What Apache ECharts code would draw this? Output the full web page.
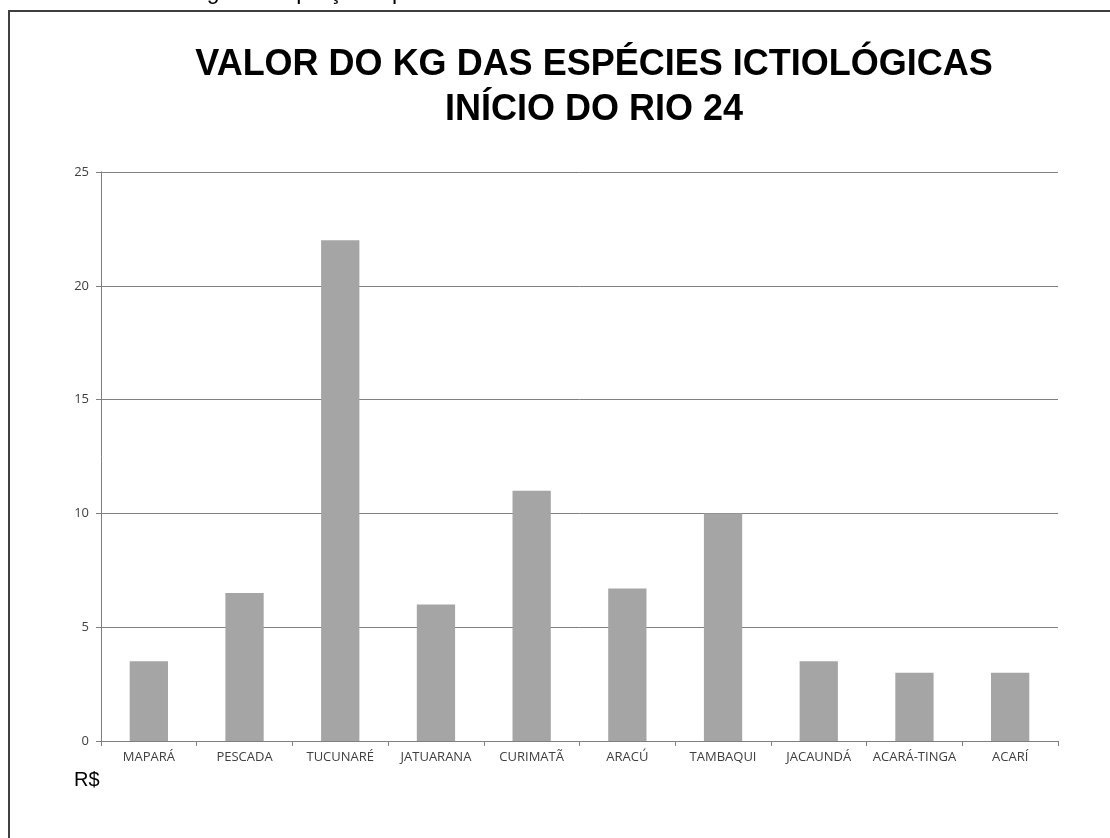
<!DOCTYPE html>
<html>
<head>
<meta charset="utf-8" />
<title>Valor do kg</title>
<script src="https://cdn.jsdelivr.net/npm/echarts@6/dist/echarts.min.js"></script>
<style>
  html, body { margin: 0; padding: 0; background: #fff; }
  #main { width: 1110px; height: 838px; }
</style>
</head>
<body>
<div id="main"></div>
<script type="text/javascript">
// dados do grafico
var especies = ['MAPARÁ', 'PESCADA', 'TUCUNARÉ', 'JATUARANA', 'CURIMATÃ', 'ARACÚ', 'TAMBAQUI', 'JACAUNDÁ', 'ACARÁ-TINGA', 'ACARÍ'];
var valores = [3.5, 6.5, 22, 6, 11, 6.7, 10, 3.5, 3, 3];
var titulo = ['VALOR DO KG DAS ESPÉCIES ICTIOLÓGICAS', 'INÍCIO DO RIO 24'];

var myChart = echarts.init(document.getElementById('main'));

var option = {
  backgroundColor: '#fff',
  animation: false,
  title: {
    text: titulo.join('\n'),
    left: 589,
    top: 38,
    textAlign: 'center',
    textStyle: {
      fontFamily: 'Liberation Sans, Arial',
      fontWeight: 'bold',
      fontSize: 36,
      lineHeight: 45,
      color: '#000'
    }
  },
  grid: {
    left: 101,
    right: 52,
    top: 172,
    bottom: 97
  },
  xAxis: {
    type: 'category',
    data: especies,
    axisLine: { lineStyle: { color: '#7f7f7f', width: 1 } },
    axisTick: { show: true, length: 5, lineStyle: { color: '#7f7f7f' } },
    axisLabel: {
      color: '#404040',
      fontFamily: 'Open Sans',
      fontSize: 13,
      margin: 10,
      interval: 0
    }
  },
  yAxis: {
    type: 'value',
    min: 0,
    max: 25,
    interval: 5,
    axisLine: { show: true, lineStyle: { color: '#7f7f7f', width: 1 } },
    axisTick: { show: true, length: 5, lineStyle: { color: '#7f7f7f' } },
    splitLine: { lineStyle: { color: '#808080', width: 1 } },
    axisLabel: {
      color: '#404040',
      fontFamily: 'Open Sans',
      fontSize: 13,
      margin: 12
    }
  },
  series: [{
    name: 'R$/kg',
    type: 'bar',
    data: valores,
    barWidth: '40%',
    itemStyle: { color: '#a5a5a5' }
  }],
  graphic: [
    {
      // legenda cortada acima da moldura
      type: 'text',
      left: 0,
      top: -19,
      style: {
        text: 'Gráfico 11 - Análise geral do preço do pescado comercializado no Rio 24',
        font: '23px "Liberation Sans", Arial',
        fill: '#000'
      }
    },
    {
      // moldura do grafico (borda superior e esquerda)
      type: 'polyline',
      shape: { points: [[9, 845], [9, 11], [1115, 11]] },
      style: { stroke: '#404040', lineWidth: 2, fill: null }
    },
    {
      type: 'rect',
      shape: { x: 10, y: 12, width: 1110, height: 10 },
      style: { fill: '#fff' }
    },
    {
      type: 'text',
      left: 74,
      top: 770,
      style: {
        text: 'R$',
        font: '20px "Liberation Sans", Arial',
        fill: '#000'
      }
    }
  ]
};

myChart.setOption(option);
</script>
</body>
</html>
